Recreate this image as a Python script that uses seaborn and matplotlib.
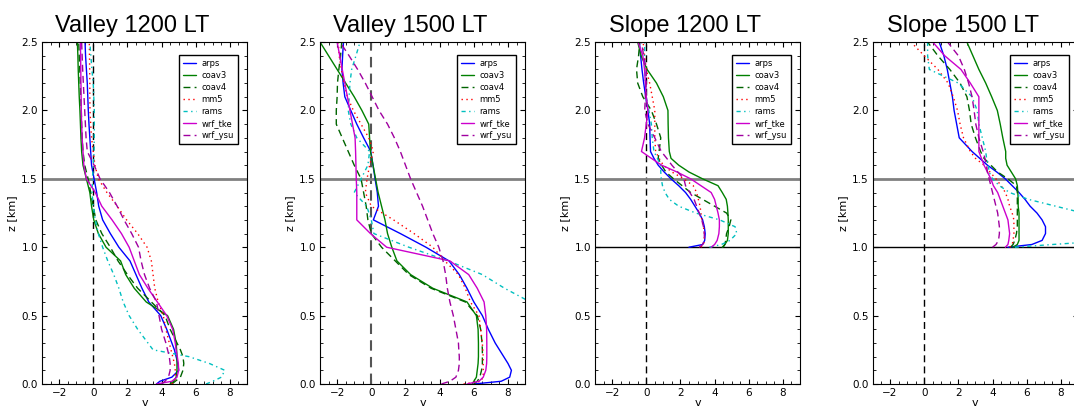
import pandas as pd
import matplotlib
matplotlib.use('Agg')
import matplotlib.pyplot as plt
import seaborn as sns

models = ['arps', 'coav3', 'coav4', 'mm5', 'rams', 'wrf_tke', 'wrf_ysu']

# heights of the profiles [km]
z_valley = [0.0, 0.02, 0.05, 0.1, 0.15, 0.2, 0.25, 0.3, 0.4, 0.5, 0.6, 0.7, 0.8, 0.9, 1.0,
            1.1, 1.2, 1.3, 1.4, 1.5, 1.6, 1.7, 1.8, 1.9, 2.0, 2.1, 2.2, 2.3, 2.4, 2.5]
z_slope = [1.0, 1.02, 1.05, 1.1, 1.15, 1.2, 1.25, 1.3, 1.35, 1.4, 1.45, 1.5, 1.55, 1.6,
           1.65, 1.7, 1.8, 1.9, 2.0, 2.1, 2.2, 2.3, 2.4, 2.5]

# Valley 1200 LT
v1200_arps = [3.7, 3.9, 4.6, 5.0, 4.95, 4.85, 4.75, 4.6, 4.3, 3.95, 3.25, 2.85, 2.5, 2.15, 1.5,
              1.0, 0.55, 0.32, 0.2, 0.05, -0.1, -0.15, -0.2, -0.25, -0.29, -0.32, -0.35, -0.4, -0.45, -0.48]
v1200_coav3 = [4.5, 4.7, 4.85, 4.9, 4.9, 4.9, 4.88, 4.85, 4.7, 4.35, 3.1, 2.4, 1.9, 1.6, 0.75,
               0.3, 0.03, -0.1, -0.2, -0.4, -0.6, -0.68, -0.72, -0.75, -0.78, -0.82, -0.85, -0.88, -0.9, -0.93]
v1200_coav4 = [4.6, 4.8, 5.1, 5.25, 5.3, 5.25, 5.1, 4.9, 4.5, 4.2, 3.4, 2.6, 2.0, 1.45, 1.0,
               0.5, 0.15, 0.0, -0.15, -0.3, -0.5, -0.6, -0.65, -0.68, -0.7, -0.73, -0.76, -0.79, -0.82, -0.85]
v1200_mm5 = [4.6, 4.75, 4.8, 4.8, 4.75, 4.65, 4.55, 4.45, 4.25, 4.1, 3.8, 3.6, 3.5, 3.4, 3.15,
             2.6, 1.95, 1.4, 0.8, 0.3, 0.1, 0.0, -0.1, -0.15, -0.19, -0.2, -0.2, -0.21, -0.22, -0.23]
v1200_rams = [6.6, 7.0, 7.5, 7.7, 6.8, 5.6, 3.5, 3.2, 2.6, 2.1, 1.75, 1.5, 1.2, 0.85, 0.55,
              0.3, 0.12, 0.0, -0.07, -0.05, 0.0, 0.05, 0.06, 0.06, 0.06, 0.03, 0.0, -0.08, -0.14, -0.2]
v1200_wrf_tke = [3.7, 4.6, 4.9, 5.0, 4.98, 4.92, 4.85, 4.8, 4.65, 4.3, 3.75, 3.2, 2.7, 2.4, 2.1,
                 1.65, 1.1, 0.5, 0.12, -0.4, -0.55, -0.6, -0.65, -0.68, -0.7, -0.71, -0.72, -0.73, -0.74, -0.75]
v1200_wrf_ysu = [4.0, 4.2, 4.4, 4.5, 4.5, 4.45, 4.35, 4.25, 4.0, 3.85, 3.7, 3.3, 3.0, 2.8, 2.65,
                 2.25, 1.8, 1.4, 0.95, 0.4, 0.05, -0.35, -0.42, -0.46, -0.5, -0.54, -0.58, -0.62, -0.65, -0.68]

# Valley 1500 LT
v1500_arps = [6.0, 7.6, 8.1, 8.2, 8.0, 7.75, 7.5, 7.25, 6.85, 6.5, 6.0, 5.6, 5.15, 4.55, 3.2,
              1.7, 0.12, 0.42, 0.35, 0.22, 0.1, -0.03, -0.45, -0.85, -1.2, -1.55, -1.65, -1.72, -1.68, -1.63]
v1500_coav3 = [5.9, 6.0, 6.15, 6.2, 6.25, 6.27, 6.27, 6.27, 6.25, 6.15, 5.6, 3.6, 2.3, 1.5, 1.2,
               0.95, 0.8, 0.6, 0.4, 0.25, 0.1, -0.05, -0.1, -0.15, -0.55, -1.0, -1.5, -2.0, -2.5, -3.0]
v1500_coav4 = [6.0, 6.2, 6.35, 6.45, 6.5, 6.5, 6.5, 6.48, 6.4, 6.2, 5.5, 3.5, 2.2, 1.4, 0.6,
               0.0, -0.2, -0.3, -0.45, -0.6, -1.0, -1.35, -1.7, -2.05, -2.05, -2.0, -1.98, -1.9, -1.8, -1.73]
v1500_mm5 = [5.4, 6.4, 6.55, 6.55, 6.55, 6.55, 6.52, 6.5, 6.4, 6.3, 5.8, 5.5, 5.1, 4.3, 3.6,
             2.5, 1.3, 0.0, -0.35, -0.25, -0.1, 0.12, -0.15, -0.6, -1.05, -1.4, -1.6, -1.75, -1.88, -1.93]
v1500_rams = [9.0, 10.0, 11.0, 11.0, 11.0, 11.0, 11.0, 11.0, 10.5, 10.0, 9.3, 7.8, 6.5, 4.5, 2.2,
              0.15, 0.0, -0.27, -1.0, -0.6, -0.2, -0.1, -0.85, -1.2, -1.35, -1.3, -1.25, -1.15, -0.9, -0.66]
v1500_wrf_tke = [5.6, 6.3, 6.55, 6.7, 6.75, 6.76, 6.76, 6.76, 6.75, 6.7, 6.6, 6.2, 5.7, 4.6, 0.9,
                 -0.05, -0.85, -0.85, -0.85, -0.88, -0.9, -0.92, -0.95, -1.1, -1.25, -1.4, -1.55, -1.7, -1.85, -2.0]
v1500_wrf_ysu = [4.1, 4.6, 4.95, 5.1, 5.15, 5.15, 5.12, 5.1, 4.95, 4.8, 4.6, 4.45, 4.35, 4.2, 3.95,
                 3.6, 3.3, 3.0, 2.65, 2.3, 2.0, 1.7, 1.35, 0.95, 0.45, 0.05, -0.35, -0.8, -1.3, -1.83]

# Slope 1200 LT
s1200_arps = [2.5, 3.3, 3.42, 3.45, 3.4, 3.3, 3.1, 2.85, 2.6, 2.3, 1.9, 1.45, 1.05, 0.7, 0.45,
              0.25, 0.22, 0.2, 0.1, -0.03, -0.15, -0.25, -0.33, -0.4]
s1200_coav3 = [4.45, 4.6, 4.75, 4.8, 4.8, 4.8, 4.78, 4.75, 4.68, 4.45, 4.2, 3.3, 2.5, 1.9, 1.45,
               1.35, 1.3, 1.28, 1.27, 1.0, 0.6, 0.05, -0.3, -0.5]
s1200_coav4 = [4.5, 4.6, 4.65, 4.7, 4.85, 4.95, 4.7, 4.0, 3.3, 2.6, 2.1, 1.6, 1.15, 0.9, 0.7,
               0.75, 0.85, 0.6, 0.3, -0.2, -0.5, -0.57, -0.45, -0.38]
s1200_mm5 = [3.2, 3.35, 3.4, 3.4, 3.35, 3.25, 3.2, 3.15, 3.05, 2.95, 2.75, 2.2, 1.5, 1.0, 0.75,
             0.55, 0.5, 0.5, 0.5, 0.35, 0.2, 0.0, -0.1, -0.18]
s1200_rams = [3.7, 4.4, 4.9, 5.3, 5.2, 4.3, 2.9, 1.9, 1.35, 1.1, 0.95, 0.88, 0.85, 0.85, 0.65,
              0.45, 0.35, 0.3, 0.15, 0.0, -0.05, -0.08, -0.1, -0.09]
s1200_wrf_tke = [3.8, 4.0, 4.15, 4.25, 4.28, 4.28, 4.2, 4.1, 4.0, 3.8, 3.2, 2.6, 1.8, 0.9, 0.3,
                 -0.28, -0.1, 0.0, 0.1, 0.0, -0.05, -0.1, -0.2, -0.48]
s1200_wrf_ysu = [3.1, 3.3, 3.4, 3.4, 3.35, 3.25, 3.1, 2.95, 2.8, 2.55, 2.3, 2.2, 1.85, 1.5, 1.2,
                 0.88, 0.5, 0.1, -0.09, -0.05, 0.0, 0.0, -0.15, -0.28]

# Slope 1500 LT
s1500_arps = [4.9, 6.3, 6.9, 7.1, 7.1, 6.9, 6.6, 6.2, 5.9, 5.55, 5.15, 4.75, 4.25, 3.7, 3.25,
              2.8, 2.05, 1.9, 1.75, 1.65, 1.5, 1.35, 1.15, 0.88]
s1500_coav3 = [5.2, 5.45, 5.55, 5.55, 5.55, 5.55, 5.55, 5.5, 5.5, 5.48, 5.45, 5.35, 5.1, 4.85, 4.77,
               4.77, 4.6, 4.45, 4.28, 3.95, 3.6, 3.2, 2.85, 2.5]
s1500_coav4 = [5.05, 5.2, 5.3, 5.4, 5.45, 5.45, 5.45, 5.45, 5.45, 5.45, 5.4, 4.9, 4.3, 3.9, 3.5,
               3.3, 3.0, 2.75, 2.65, 2.5, 2.1, 1.5, 0.8, 0.2]
s1500_mm5 = [5.0, 5.15, 5.2, 5.25, 5.25, 5.25, 5.15, 5.0, 4.9, 4.75, 4.5, 4.2, 3.85, 3.5, 3.0,
             2.7, 2.3, 2.1, 1.95, 1.7, 1.4, 0.8, 0.0, -0.77]
s1500_rams = [5.3, 7.5, 11.0, 12.0, 12.0, 12.0, 9.3, 7.7, 6.1, 5.0, 4.4, 4.0, 3.8, 3.75, 3.65,
              3.6, 3.4, 3.2, 3.1, 2.8, 2.0, 0.3, 0.2, 0.2]
s1500_wrf_tke = [4.75, 4.9, 4.95, 5.0, 4.95, 4.9, 4.75, 4.6, 4.45, 4.3, 4.05, 3.9, 3.7, 3.5, 3.35,
                 3.2, 3.2, 3.2, 3.2, 3.2, 2.7, 2.15, 1.2, 0.5]
s1500_wrf_ysu = [4.0, 4.2, 4.35, 4.4, 4.4, 4.35, 4.3, 4.2, 4.1, 4.0, 3.9, 3.8, 3.7, 3.65, 3.55,
                 3.45, 3.2, 3.02, 2.92, 2.8, 2.6, 2.35, 2.0, 1.37]

panels = [
    ('Valley 1200 LT', z_valley, [v1200_arps, v1200_coav3, v1200_coav4, v1200_mm5,
                                  v1200_rams, v1200_wrf_tke, v1200_wrf_ysu]),
    ('Valley 1500 LT', z_valley, [v1500_arps, v1500_coav3, v1500_coav4, v1500_mm5,
                                  v1500_rams, v1500_wrf_tke, v1500_wrf_ysu]),
    ('Slope 1200 LT', z_slope, [s1200_arps, s1200_coav3, s1200_coav4, s1200_mm5,
                                s1200_rams, s1200_wrf_tke, s1200_wrf_ysu]),
    ('Slope 1500 LT', z_slope, [s1500_arps, s1500_coav3, s1500_coav4, s1500_mm5,
                                s1500_rams, s1500_wrf_tke, s1500_wrf_ysu]),
]

colors = {'arps': '#0000ff', 'coav3': '#008000', 'coav4': '#006400', 'mm5': '#ff0000',
          'rams': '#00bfbf', 'wrf_tke': '#cc00cc', 'wrf_ysu': '#a000a0'}
dashes = {'arps': '', 'coav3': '', 'coav4': (5, 3), 'mm5': (1, 2.5),
          'rams': (3, 2.5, 1, 2.5), 'wrf_tke': '', 'wrf_ysu': (5, 3)}

sns.set_style('ticks', rc={
    'xtick.direction': 'in', 'ytick.direction': 'in',
    'xtick.top': True, 'ytick.right': True,
    'xtick.major.size': 4, 'ytick.major.size': 4,
    'xtick.minor.size': 2, 'ytick.minor.size': 2,
    'axes.edgecolor': 'black', 'axes.linewidth': 1.0,
    'xtick.color': 'black', 'ytick.color': 'black',
    'text.color': 'black', 'axes.labelcolor': 'black',
})
plt.rcParams['font.family'] = ['DejaVu Sans']

fig = plt.figure(figsize=(10.74, 4.09), dpi=100)
lefts = [0.0391, 0.298, 0.554, 0.8128]

for i, (title, z, series) in enumerate(panels):
    ax = fig.add_axes([lefts[i], 0.0611, 0.1909, 0.836])
    frames = []
    for name, v in zip(models, series):
        frames.append(pd.DataFrame({'v': v, 'z': z, 'model': name}))
    df = pd.concat(frames, ignore_index=True)

    ax.axvline(0, color='black' if i != 1 else '#555555', lw=1.0 if i != 1 else 1.5,
               ls=(0, (5, 3)), zorder=1)
    ax.axhline(1.5, color='#808080', lw=2, zorder=1)
    if i >= 2:
        ax.axhline(1.0, color='black', lw=1, zorder=1)

    sns.lineplot(data=df, x='v', y='z', hue='model', style='model',
                 hue_order=models, style_order=models, palette=colors,
                 dashes=dashes, sort=False, estimator=None, lw=1, ax=ax)

    ax.set_xlim(-3, 9)
    ax.set_ylim(0, 2.5)
    ax.set_xticks([-2, 0, 2, 4, 6, 8])
    ax.set_yticks([0.0, 0.5, 1.0, 1.5, 2.0, 2.5])
    ax.set_yticklabels(['0.0', '0.5', '1.0', '1.5', '2.0', '2.5'])
    ax.minorticks_on()
    ax.xaxis.set_minor_locator(matplotlib.ticker.MultipleLocator(0.5))
    ax.yaxis.set_minor_locator(matplotlib.ticker.MultipleLocator(0.1))
    ax.tick_params(which='both', direction='in', top=True, right=True, labelsize=7.5, pad=3)
    ax.set_xlabel('v', fontsize=8, labelpad=0)
    ax.set_ylabel('z [km]', fontsize=8, labelpad=3)
    ax.set_title(title, fontsize=17, family='Liberation Sans', pad=7, color='black', x=0.44)

    sns.move_legend(ax, 'upper right', bbox_to_anchor=(0.955, 0.962), title=None,
                    frameon=True, fancybox=False, framealpha=1, edgecolor='black',
                    fontsize=6, handlelength=1.6, handletextpad=0.6, labelspacing=0.35,
                    borderpad=0.5, borderaxespad=0)
    ax.get_legend().get_frame().set_linewidth(1.0)

fig.savefig('out.png', dpi=100)
